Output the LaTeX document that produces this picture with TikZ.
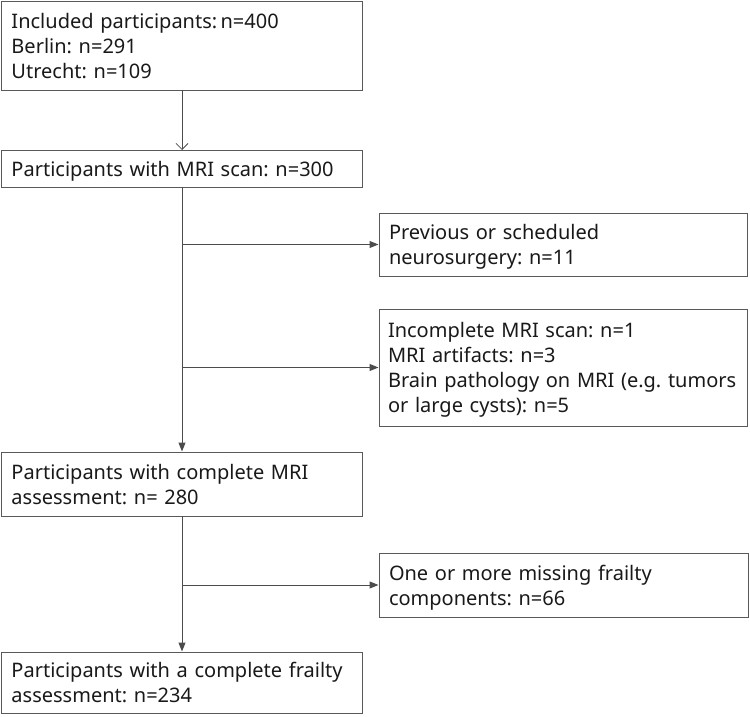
\documentclass[tikz,border=0pt]{standalone}
\usepackage{fontspec}
\setmainfont{Noto Sans}
\frenchspacing
\usetikzlibrary{arrows.meta}
\newcommand\boxtopstrut{\rule{0pt}{20.5pt}}
\newcommand\boxbotstrut{\rule[-5pt]{0pt}{5pt}}
\tikzset{
  flowbox/.style={draw=black!65, line width=1pt, fill=white, anchor=north west,
    inner xsep=10pt, inner ysep=0pt, outer sep=0pt, align=left, text=black!90,
    font=\fontsize{20}{25}\selectfont,
    execute at begin node=\boxtopstrut, execute at end node=\boxbotstrut},
  trunk/.style={draw=black!70, line width=1pt},
  openarr/.style={trunk, -{Straight Barb[length=6pt,width=12pt,line width=0.8pt]}},
  solidarr/.style={trunk, -{Triangle[length=9pt,width=7pt]}, shorten >=0.5pt}
}
\begin{document}
\begin{tikzpicture}[x=1pt,y=-1pt]
\useasboundingbox (0,0) rectangle (750,717);
\node[flowbox, minimum width=361pt, minimum height=89pt, text width=341pt] (b1) at (1.5,1.5)
  {Included participants:\,n=400\\Berlin: n=291\\Utrecht: n=109};
\node[flowbox, minimum width=361pt, minimum height=37pt, text width=341pt] (b2) at (1.5,150)
  {Participants with MRI scan: n=300};
\node[flowbox, minimum width=368pt, minimum height=63pt, text width=348pt] (b3) at (379,213)
  {Previous or scheduled\\neurosurgery: n=11};
\node[flowbox, minimum width=368pt, minimum height=117pt, text width=350pt, inner xsep=9pt] (b4) at (379,309)
  {Incomplete MRI scan: n=1\\MRI artifacts: n=3\\Brain pathology on MRI (e.g. tumors\\or large cysts): n=5};
\node[flowbox, minimum width=361pt, minimum height=64pt, text width=341pt] (b5) at (1.5,452)
  {Participants with complete MRI\\assessment: n=\ 280};
\node[flowbox, minimum width=369pt, minimum height=64pt, text width=349pt] (b6) at (379,553)
  {One or more missing frailty\\components: n=66};
\node[flowbox, minimum width=361pt, minimum height=61pt, text width=341pt] (b7) at (1.5,652)
  {Participants with a complete frailty\\assessment: n=234};

\draw[openarr] (b1.south) -- (b2.north);
\draw[solidarr] (b2.south) -- (b5.north);
\draw[solidarr] (b2.south |- b3.west) -- (b3.west);
\draw[solidarr] (b2.south |- b4.west) -- (b4.west);
\draw[solidarr] (b5.south) -- (b7.north);
\draw[solidarr] (b5.south |- b6.west) -- (b6.west);
\end{tikzpicture}
\end{document}
